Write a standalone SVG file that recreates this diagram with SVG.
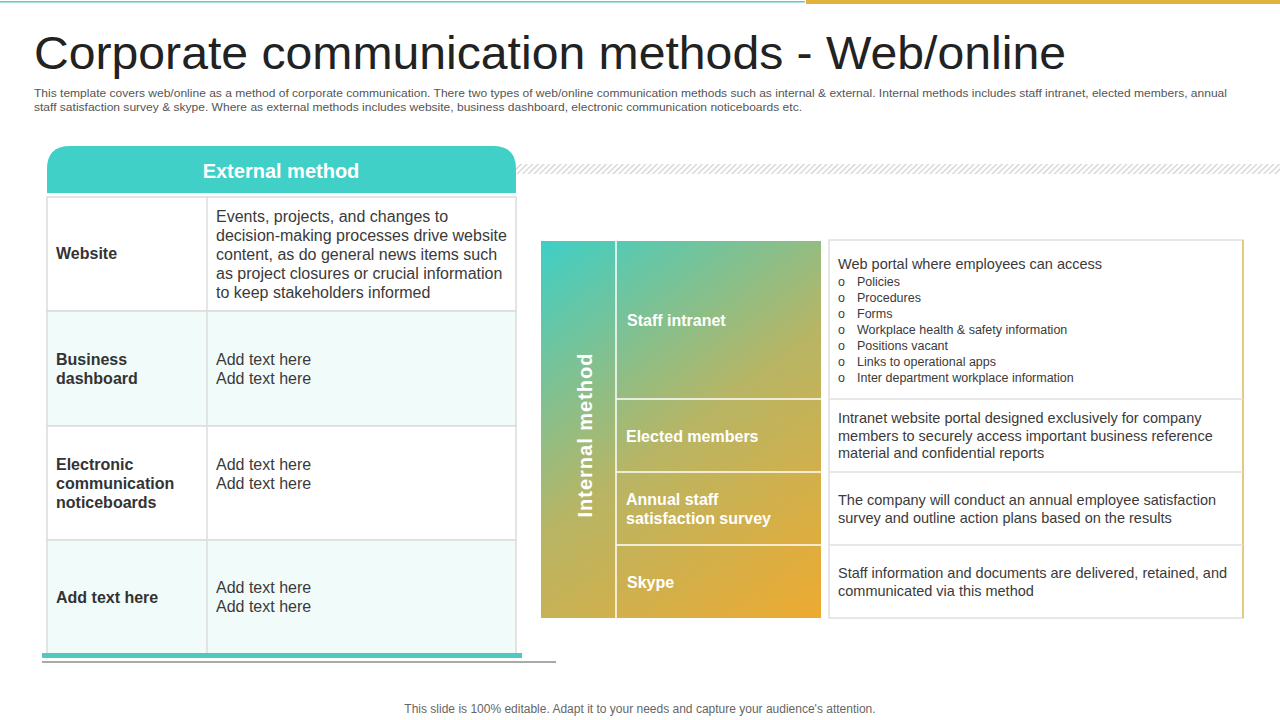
<svg xmlns="http://www.w3.org/2000/svg" width="1280" height="720" viewBox="0 0 1280 720">
<defs>
<linearGradient id="g" x1="541" y1="241" x2="821" y2="618" gradientUnits="userSpaceOnUse">
<stop offset="0" stop-color="#3ecfc6"/><stop offset="0.5" stop-color="#b7b565"/><stop offset="1" stop-color="#eeaa30"/>
</linearGradient>
<pattern id="h" width="4" height="4" patternUnits="userSpaceOnUse" patternTransform="rotate(45)">
<rect width="1.2" height="4" fill="#cfcfcf"/>
</pattern>
<style>
text{font-family:"Liberation Sans",Arial,sans-serif}
.b{font-weight:bold;font-size:16px;fill:#333}
.t{font-size:16px;fill:#3a3a3a}
.s{font-size:12.5px;fill:#3a3a3a}
.w{font-weight:bold;font-size:16px;fill:#fff}
.cell{stroke:#dcdcdc;stroke-width:1.5}
</style>
</defs>
<rect width="1280" height="720" fill="#fff"/>
<rect x="0" y="1" width="805" height="1.5" fill="#5fc9c0"/>
<rect x="806" y="0" width="474" height="4" fill="#e2b33a"/>
<text x="34" y="69" font-size="47" fill="#222" textLength="1032" lengthAdjust="spacingAndGlyphs">Corporate communication methods - Web/online</text>
<text font-size="11.5" fill="#555"><tspan x="34" y="97" textLength="1193" lengthAdjust="spacingAndGlyphs">This template covers web/online as a method of corporate communication. There two types of web/online communication methods such as internal &amp; external. Internal methods includes staff intranet, elected members, annual</tspan><tspan x="34" y="111" textLength="768" lengthAdjust="spacingAndGlyphs">staff satisfaction survey &amp; skype. Where as external methods includes website, business dashboard, electronic communication noticeboards etc.</tspan></text>
<rect x="516" y="164" width="764" height="10" fill="url(#h)"/>

<g id="external">
<path d="M47,193 V169 Q47,146 70,146 H493 Q516,146 516,169 V193 Z" fill="#40d0c7"/>
<text x="281" y="178" text-anchor="middle" font-size="20" font-weight="bold" fill="#fff">External method</text>
<rect x="47" y="197" width="469" height="114" fill="#fff" class="cell"/>
<rect x="47" y="311" width="469" height="115" fill="#f1fbfa" class="cell"/>
<rect x="47" y="426" width="469" height="114" fill="#fff" class="cell"/>
<rect x="47" y="540" width="469" height="114" fill="#f1fbfa" class="cell"/>
<line x1="207" y1="197" x2="207" y2="654" class="cell"/>
<rect x="42" y="653" width="480" height="5" fill="#4fc9bf"/>
<line x1="42" y1="662" x2="556" y2="662" stroke="#555" stroke-width="1"/>
<text x="56" y="259" class="b">Website</text>
<text class="t"><tspan x="216" y="222">Events, projects, and changes to</tspan><tspan x="216" y="241">decision-making processes drive website</tspan><tspan x="216" y="260">content, as do general news items such</tspan><tspan x="216" y="279">as project closures or crucial information</tspan><tspan x="216" y="298">to keep stakeholders informed</tspan></text>
<text class="b"><tspan x="56" y="365">Business</tspan><tspan x="56" y="384">dashboard</tspan></text>
<text class="t"><tspan x="216" y="365">Add text here</tspan><tspan x="216" y="384">Add text here</tspan></text>
<text class="b"><tspan x="56" y="470">Electronic</tspan><tspan x="56" y="489">communication</tspan><tspan x="56" y="508">noticeboards</tspan></text>
<text class="t"><tspan x="216" y="470">Add text here</tspan><tspan x="216" y="489">Add text here</tspan></text>
<text x="56" y="603" class="b">Add text here</text>
<text class="t"><tspan x="216" y="593">Add text here</tspan><tspan x="216" y="612">Add text here</tspan></text>
</g>

<g id="internal">
<rect x="541" y="241" width="280" height="377" fill="url(#g)"/>
<g stroke="#fff" stroke-width="1.5">
<line x1="616" y1="241" x2="616" y2="618"/>
<line x1="616" y1="399" x2="821" y2="399"/>
<line x1="616" y1="472" x2="821" y2="472"/>
<line x1="616" y1="545" x2="821" y2="545"/>
</g>
<text transform="translate(592,435) rotate(-90)" text-anchor="middle" font-size="20" font-weight="bold" fill="#fff" letter-spacing="1">Internal method</text>
<text x="627" y="326" class="w">Staff intranet</text>
<text x="626" y="442" class="w">Elected members</text>
<text class="w"><tspan x="626" y="505">Annual staff</tspan><tspan x="626" y="524">satisfaction survey</tspan></text>
<text x="627" y="588" class="w">Skype</text>
<rect x="829" y="240" width="414" height="378" fill="#fff" stroke="#e0e0e0" stroke-width="1.5"/>
<line x1="1243" y1="240" x2="1243" y2="618" stroke="#e2c15a" stroke-width="1.5"/>
<g stroke="#e0e0e0" stroke-width="1.5"><line x1="829" y1="399" x2="1243" y2="399"/><line x1="829" y1="472" x2="1243" y2="472"/><line x1="829" y1="545" x2="1243" y2="545"/></g>
<text x="838" y="269" font-size="14.5" fill="#3a3a3a">Web portal where employees can access</text>
<text class="s"><tspan x="838" y="286">o</tspan><tspan x="838" y="302">o</tspan><tspan x="838" y="318">o</tspan><tspan x="838" y="334">o</tspan><tspan x="838" y="350">o</tspan><tspan x="838" y="366">o</tspan><tspan x="838" y="382">o</tspan></text>
<text class="s"><tspan x="857" y="286">Policies</tspan><tspan x="857" y="302">Procedures</tspan><tspan x="857" y="318">Forms</tspan><tspan x="857" y="334">Workplace health &amp; safety information</tspan><tspan x="857" y="350">Positions vacant</tspan><tspan x="857" y="366">Links to operational apps</tspan><tspan x="857" y="382">Inter department workplace information</tspan></text>
<text font-size="14.5" fill="#3a3a3a"><tspan x="838" y="423">Intranet website portal designed exclusively for company</tspan><tspan x="838" y="441">members to securely access important business reference</tspan><tspan x="838" y="458">material and confidential reports</tspan></text>
<text font-size="14.5" fill="#3a3a3a"><tspan x="838" y="505">The company will conduct an annual employee satisfaction</tspan><tspan x="838" y="523">survey and outline action plans based on the results</tspan></text>
<text font-size="14.5" fill="#3a3a3a"><tspan x="838" y="578">Staff information and documents are delivered, retained, and</tspan><tspan x="838" y="596">communicated via this method</tspan></text>
</g>
<text x="640" y="713" text-anchor="middle" font-size="12" fill="#666">This slide is 100% editable. Adapt it to your needs and capture your audience's attention.</text>
</svg>
